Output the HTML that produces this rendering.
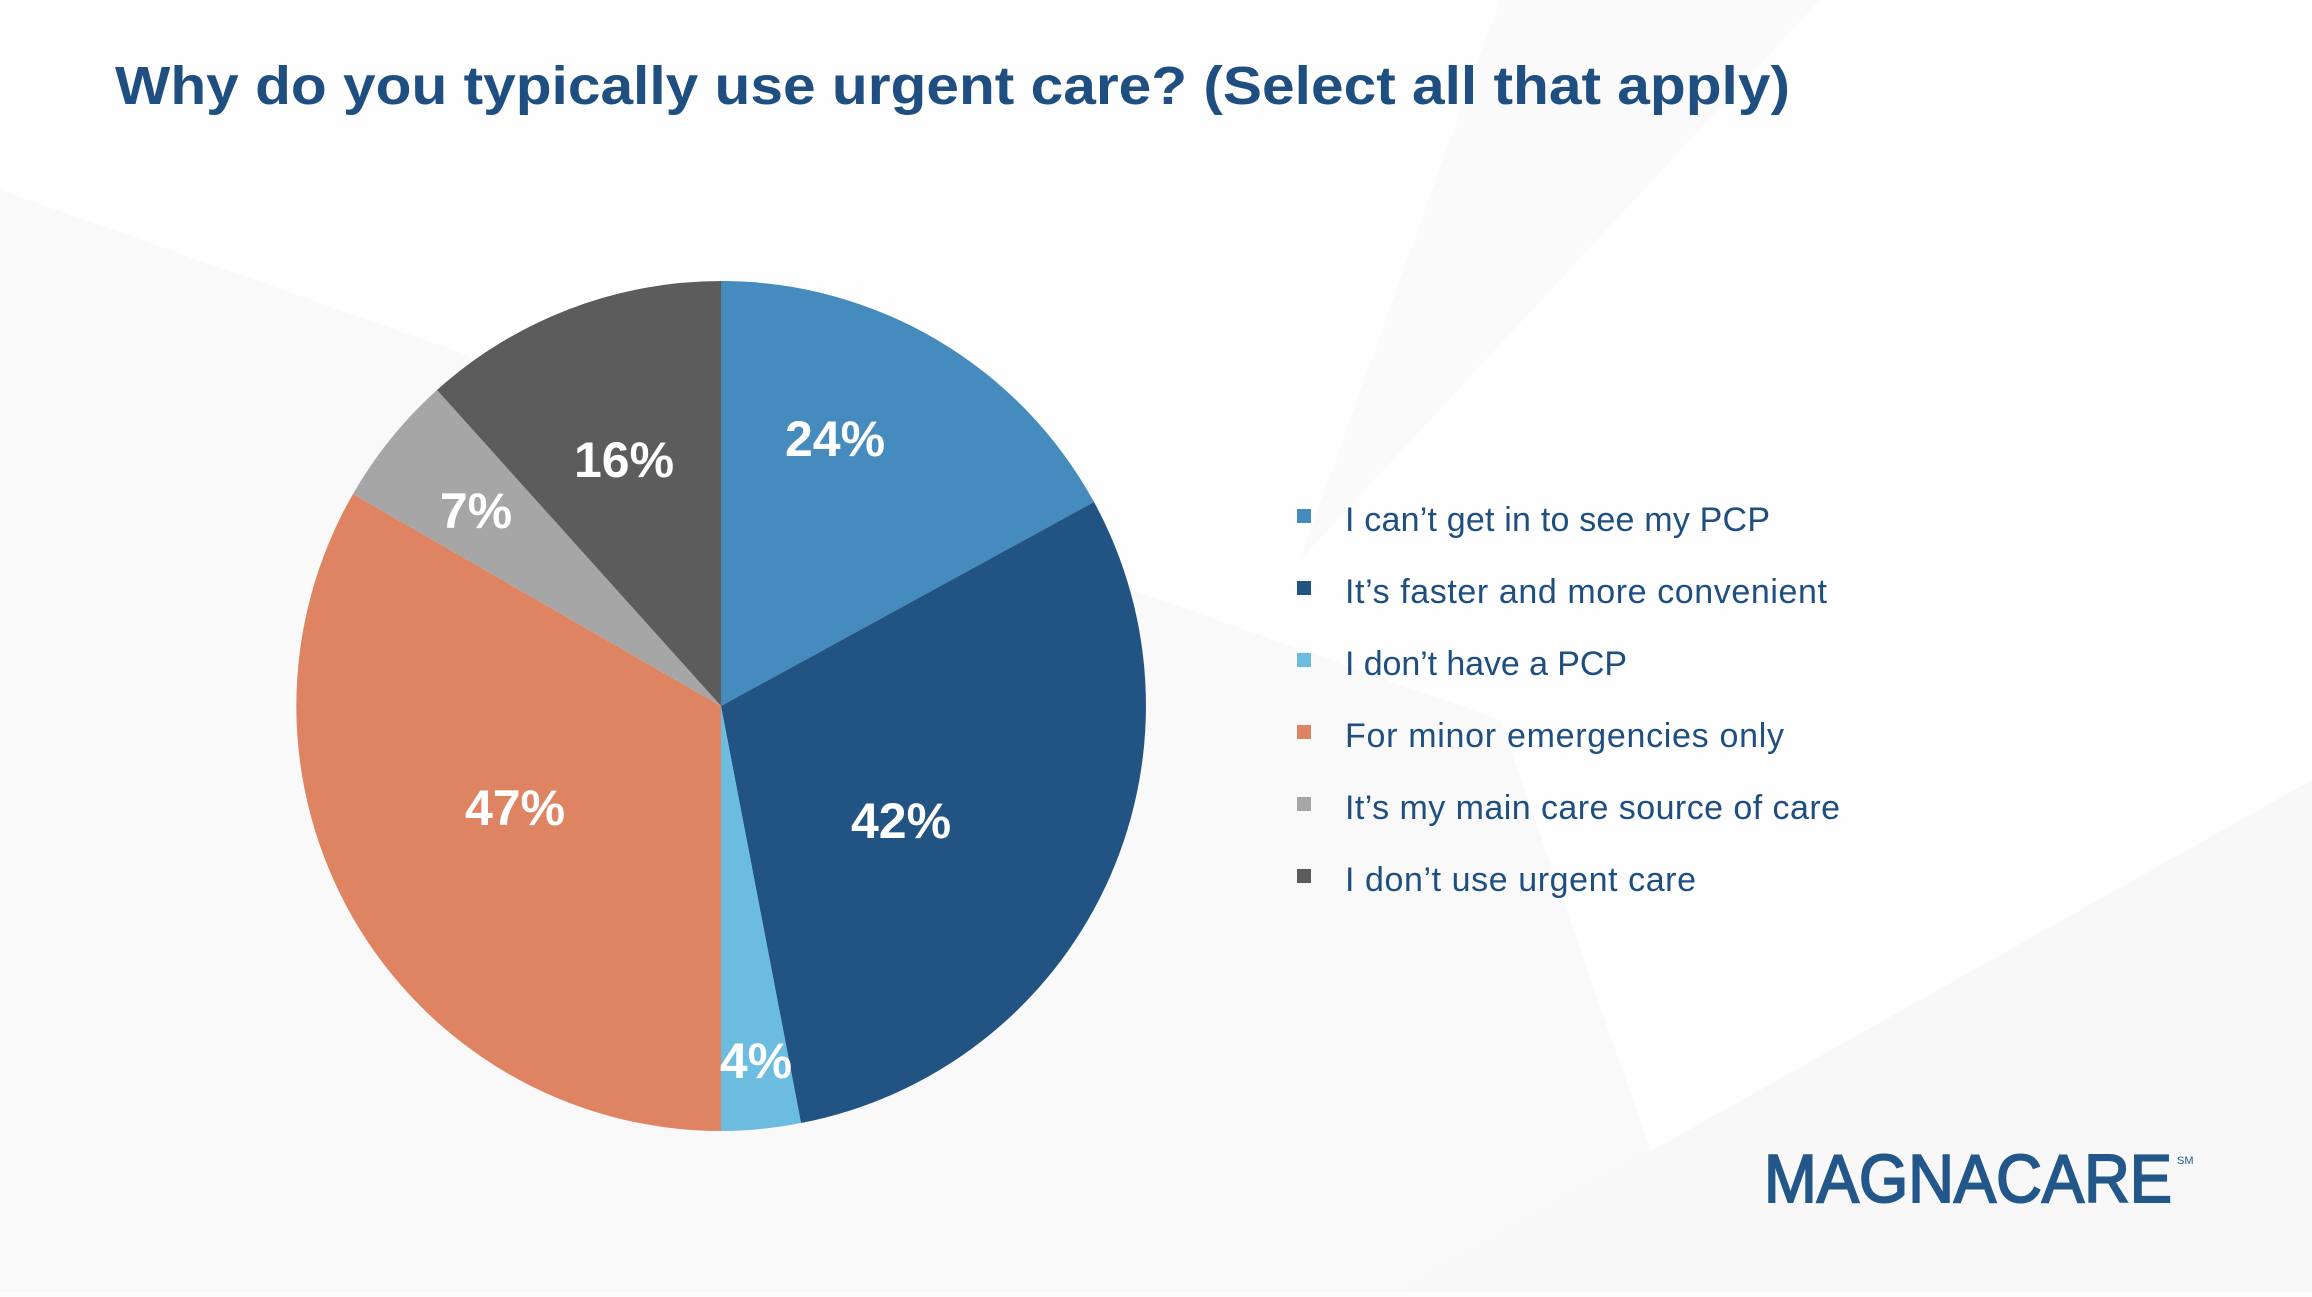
<!DOCTYPE html>
<html><head><meta charset="utf-8"><style>
html,body{margin:0;padding:0;}
body{width:2312px;height:1292px;overflow:hidden;background:#fdfdfd;}
</style></head><body>
<svg width="2312" height="1292" viewBox="0 0 2312 1292" xmlns="http://www.w3.org/2000/svg">
<rect width="2312" height="1292" fill="#fefefe"/>
<polygon points="0,190 1500,720 1700,1292 0,1292" fill="#f9f9f9"/>
<polygon points="1400,1292 2312,780 2312,1292" fill="#f8f8f8"/>
<polygon points="1500,0 1820,0 1300,560" fill="#fafafa"/>
<text x="115" y="104" font-family="Liberation Sans, sans-serif" font-weight="bold" font-size="54" fill="#1f4e80" textLength="1675" lengthAdjust="spacingAndGlyphs">Why do you typically use urgent care? (Select all that apply)</text>
<g stroke="none">
<path d="M721,706 L721,281 A425,425 0 0 1 1094,502 Z" fill="#468bbd"/>
<path d="M721,706 L1094,502 A425,425 0 0 1 801,1123 Z" fill="#225483"/>
<path d="M721,706 L801,1123 A425,425 0 0 1 721,1131 Z" fill="#6bbcdf"/>
<path d="M721,706 L721,1131 A425,425 0 0 1 353,494 Z" fill="#de8463"/>
<path d="M721,706 L353,494 A425,425 0 0 1 437,390 Z" fill="#a6a6a6"/>
<path d="M721,706 L437,390 A425,425 0 0 1 721,281 Z" fill="#5c5c5c"/>
</g>
<g font-family="Liberation Sans, sans-serif" font-weight="bold" font-size="50" fill="#fff" text-anchor="middle">
<text x="835" y="456">24%</text>
<text x="901" y="838">42%</text>
<text x="756" y="1078">4%</text>
<text x="515" y="825">47%</text>
<text x="476" y="528">7%</text>
<text x="624" y="477">16%</text>
</g>
<g font-family="Liberation Sans, sans-serif" font-size="34" fill="#1f4e80" lengthAdjust="spacingAndGlyphs">
<rect x="1297" y="509" width="14" height="14" fill="#468bbd"/><text x="1345" y="531" textLength="425">I can’t get in to see my PCP</text>
<rect x="1297" y="581" width="14" height="14" fill="#225483"/><text x="1345" y="603" textLength="482">It’s faster and more convenient</text>
<rect x="1297" y="653" width="14" height="14" fill="#6bbcdf"/><text x="1345" y="675" textLength="282">I don’t have a PCP</text>
<rect x="1297" y="725" width="14" height="14" fill="#de8463"/><text x="1345" y="747" textLength="439">For minor emergencies only</text>
<rect x="1297" y="797" width="14" height="14" fill="#a6a6a6"/><text x="1345" y="819" textLength="495">It’s my main care source of care</text>
<rect x="1297" y="869" width="14" height="14" fill="#5c5c5c"/><text x="1345" y="891" textLength="351">I don’t use urgent care</text>
</g>
<text x="1764" y="1202" font-family="Liberation Sans, sans-serif" font-size="68" fill="#23578a" stroke="#23578a" stroke-width="2" textLength="408" lengthAdjust="spacingAndGlyphs">MAGNACARE</text>
<text x="2177" y="1164" font-family="Liberation Sans, sans-serif" font-size="11" fill="#23578a">SM</text>
</svg>
</body></html>
